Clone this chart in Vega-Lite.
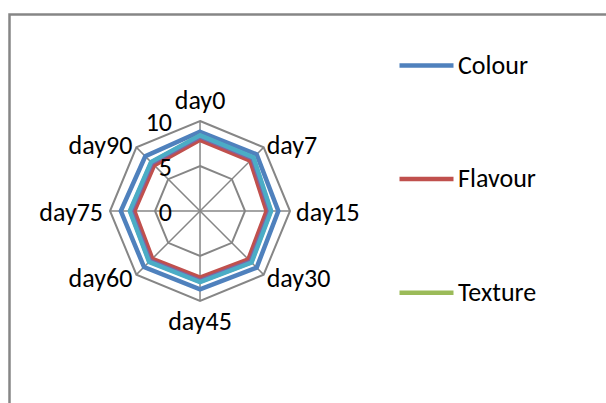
{
  "$schema": "https://vega.github.io/schema/vega-lite/v6.json",
  "width": 596.5,
  "height": 388.5,
  "autosize": {"type": "none"},
  "padding": {"left": 9.5, "top": 14.5, "right": 0, "bottom": 0},
  "background": "white",
  "config": {
    "font": "Carlito, Calibri, 'Liberation Sans Narrow', 'Liberation Sans', sans-serif",
    "view": {"stroke": "#868686", "strokeWidth": 2.5, "strokeDash": [596.5, 985, 388.5]}
  },
  "datasets": {
    "scores": [
      {"attribute": "Colour", "day": "day0", "score": 8.8},
      {"attribute": "Colour", "day": "day7", "score": 8.9},
      {"attribute": "Colour", "day": "day15", "score": 8.7},
      {"attribute": "Colour", "day": "day30", "score": 8.9},
      {"attribute": "Colour", "day": "day45", "score": 8.7},
      {"attribute": "Colour", "day": "day60", "score": 8.8},
      {"attribute": "Colour", "day": "day75", "score": 8.8},
      {"attribute": "Colour", "day": "day90", "score": 8.6},
      {"attribute": "Flavour", "day": "day0", "score": 7.9},
      {"attribute": "Flavour", "day": "day7", "score": 7.9},
      {"attribute": "Flavour", "day": "day15", "score": 7.4},
      {"attribute": "Flavour", "day": "day30", "score": 7.6},
      {"attribute": "Flavour", "day": "day45", "score": 7.4},
      {"attribute": "Flavour", "day": "day60", "score": 7.5},
      {"attribute": "Flavour", "day": "day75", "score": 7.3},
      {"attribute": "Flavour", "day": "day90", "score": 7.2},
      {"attribute": "Texture", "day": "day0", "score": 8.35},
      {"attribute": "Texture", "day": "day7", "score": 8.35},
      {"attribute": "Texture", "day": "day15", "score": 7.85},
      {"attribute": "Texture", "day": "day30", "score": 8.05},
      {"attribute": "Texture", "day": "day45", "score": 7.85},
      {"attribute": "Texture", "day": "day60", "score": 7.95},
      {"attribute": "Texture", "day": "day75", "score": 7.75},
      {"attribute": "Texture", "day": "day90", "score": 7.65},
      {"attribute": "Odour", "day": "day0", "score": 8.25},
      {"attribute": "Odour", "day": "day7", "score": 8.25},
      {"attribute": "Odour", "day": "day15", "score": 7.75},
      {"attribute": "Odour", "day": "day30", "score": 7.95},
      {"attribute": "Odour", "day": "day45", "score": 7.75},
      {"attribute": "Odour", "day": "day60", "score": 7.85},
      {"attribute": "Odour", "day": "day75", "score": 7.65},
      {"attribute": "Odour", "day": "day90", "score": 7.55},
      {"attribute": "Overall acceptability", "day": "day0", "score": 8.4},
      {"attribute": "Overall acceptability", "day": "day7", "score": 8.4},
      {"attribute": "Overall acceptability", "day": "day15", "score": 7.9},
      {"attribute": "Overall acceptability", "day": "day30", "score": 8.1},
      {"attribute": "Overall acceptability", "day": "day45", "score": 7.9},
      {"attribute": "Overall acceptability", "day": "day60", "score": 8.0},
      {"attribute": "Overall acceptability", "day": "day75", "score": 7.8},
      {"attribute": "Overall acceptability", "day": "day90", "score": 7.7}
    ],
    "rings": [
      {"day": "day0", "level": 5}, {"day": "day7", "level": 5},
      {"day": "day15", "level": 5}, {"day": "day30", "level": 5},
      {"day": "day45", "level": 5}, {"day": "day60", "level": 5},
      {"day": "day75", "level": 5}, {"day": "day90", "level": 5},
      {"day": "day0", "level": 10}, {"day": "day7", "level": 10},
      {"day": "day15", "level": 10}, {"day": "day30", "level": 10},
      {"day": "day45", "level": 10}, {"day": "day60", "level": 10},
      {"day": "day75", "level": 10}, {"day": "day90", "level": 10}
    ],
    "ticks": [{"level": 0}, {"level": 5}, {"level": 10}]
  },
  "layer": [
    {
      "data": {"name": "rings"},
      "transform": [
        {"calculate": "indexof(['day0','day7','day15','day30','day45','day60','day75','day90'], datum.day) * PI / 4", "as": "a"},
        {"calculate": "datum.level * sin(datum.a)", "as": "x"},
        {"calculate": "datum.level * cos(datum.a)", "as": "y"}
      ],
      "mark": {"type": "line", "interpolate": "linear-closed", "stroke": "#868686", "strokeWidth": 2},
      "encoding": {
        "x": {"field": "x", "type": "quantitative", "scale": {"domain": [-21.17, 45.11], "nice": false, "zero": false}, "axis": null},
        "y": {"field": "y", "type": "quantitative", "scale": {"domain": [-21.33, 21.83], "nice": false, "zero": false}, "axis": null},
        "detail": {"field": "level", "type": "nominal"},
        "order": {"field": "a", "type": "quantitative"}
      }
    },
    {
      "data": {"name": "rings"},
      "transform": [
        {"filter": "datum.level == 10"},
        {"calculate": "indexof(['day0','day7','day15','day30','day45','day60','day75','day90'], datum.day) * PI / 4", "as": "a"},
        {"calculate": "datum.level * sin(datum.a)", "as": "x"},
        {"calculate": "datum.level * cos(datum.a)", "as": "y"},
        {"calculate": "0", "as": "origin"}
      ],
      "mark": {"type": "rule", "stroke": "#868686", "strokeWidth": 1.5},
      "encoding": {
        "x": {"field": "origin", "type": "quantitative"},
        "y": {"field": "origin", "type": "quantitative"},
        "x2": {"field": "x"},
        "y2": {"field": "y"}
      }
    },
    {
      "data": {"name": "scores"},
      "transform": [
        {"calculate": "indexof(['day0','day7','day15','day30','day45','day60','day75','day90'], datum.day) * PI / 4", "as": "a"},
        {"calculate": "datum.score * sin(datum.a)", "as": "x"},
        {"calculate": "datum.score * cos(datum.a)", "as": "y"}
      ],
      "mark": {"type": "line", "interpolate": "linear-closed", "strokeWidth": 4.5, "strokeJoin": "miter"},
      "encoding": {
        "x": {"field": "x", "type": "quantitative"},
        "y": {"field": "y", "type": "quantitative"},
        "order": {"field": "a", "type": "quantitative"},
        "color": {
          "field": "attribute",
          "type": "nominal",
          "scale": {
            "domain": ["Colour", "Flavour", "Texture", "Odour", "Overall acceptability"],
            "range": ["#4F81BD", "#C0504D", "#9BBB59", "#8064A2", "#4BACC6"]
          },
          "legend": {
            "values": ["Colour", "Flavour", "Texture"],
            "title": null,
            "orient": "none",
            "legendX": 387.5,
            "legendY": 21.5,
            "padding": 0,
            "symbolType": "stroke",
            "symbolSize": 2916,
            "symbolStrokeWidth": 4.5,
            "labelFontSize": 26,
            "labelColor": "black",
            "labelOffset": 2,
            "labelLimit": 0,
            "rowPadding": 70.6
          }
        }
      }
    },
    {
      "data": {"name": "ticks"},
      "transform": [{"calculate": "0", "as": "origin"}],
      "mark": {"type": "text", "fontSize": 26, "align": "right", "baseline": "alphabetic", "dx": -28, "dy": 10, "color": "black"},
      "encoding": {
        "x": {"field": "origin", "type": "quantitative"},
        "y": {"field": "level", "type": "quantitative"},
        "text": {"field": "level", "type": "quantitative"}
      }
    },
    {
      "data": {"name": "rings"},
      "transform": [
        {"filter": "datum.level == 10"},
        {"calculate": "indexof(['day0','day7','day15','day30','day45','day60','day75','day90'], datum.day) * PI / 4", "as": "a"},
        {"calculate": "sin(datum.a)", "as": "sx"},
        {"calculate": "cos(datum.a)", "as": "cy"},
        {"calculate": "datum.level * datum.sx", "as": "x"},
        {"calculate": "datum.level * datum.cy", "as": "y"}
      ],
      "mark": {
        "type": "text",
        "fontSize": 26,
        "color": "black",
        "baseline": "alphabetic",
        "align": {"expr": "abs(datum.sx) < 0.1 ? 'center' : (datum.sx > 0 ? 'left' : 'right')"},
        "dx": {"expr": "datum.sx > 0.9 ? 6 : (datum.sx > 0.1 ? 3 : (datum.sx < -0.9 ? -7 : (datum.sx < -0.1 ? -4 : 0)))"},
        "dy": {"expr": "datum.cy > 0.9 ? -12 : (datum.cy < -0.9 ? 29 : (datum.cy > 0.1 ? 7 : (datum.cy < -0.1 ? 12 : 10)))"}
      },
      "encoding": {
        "x": {"field": "x", "type": "quantitative"},
        "y": {"field": "y", "type": "quantitative"},
        "text": {"field": "day", "type": "nominal"}
      }
    }
  ]
}
